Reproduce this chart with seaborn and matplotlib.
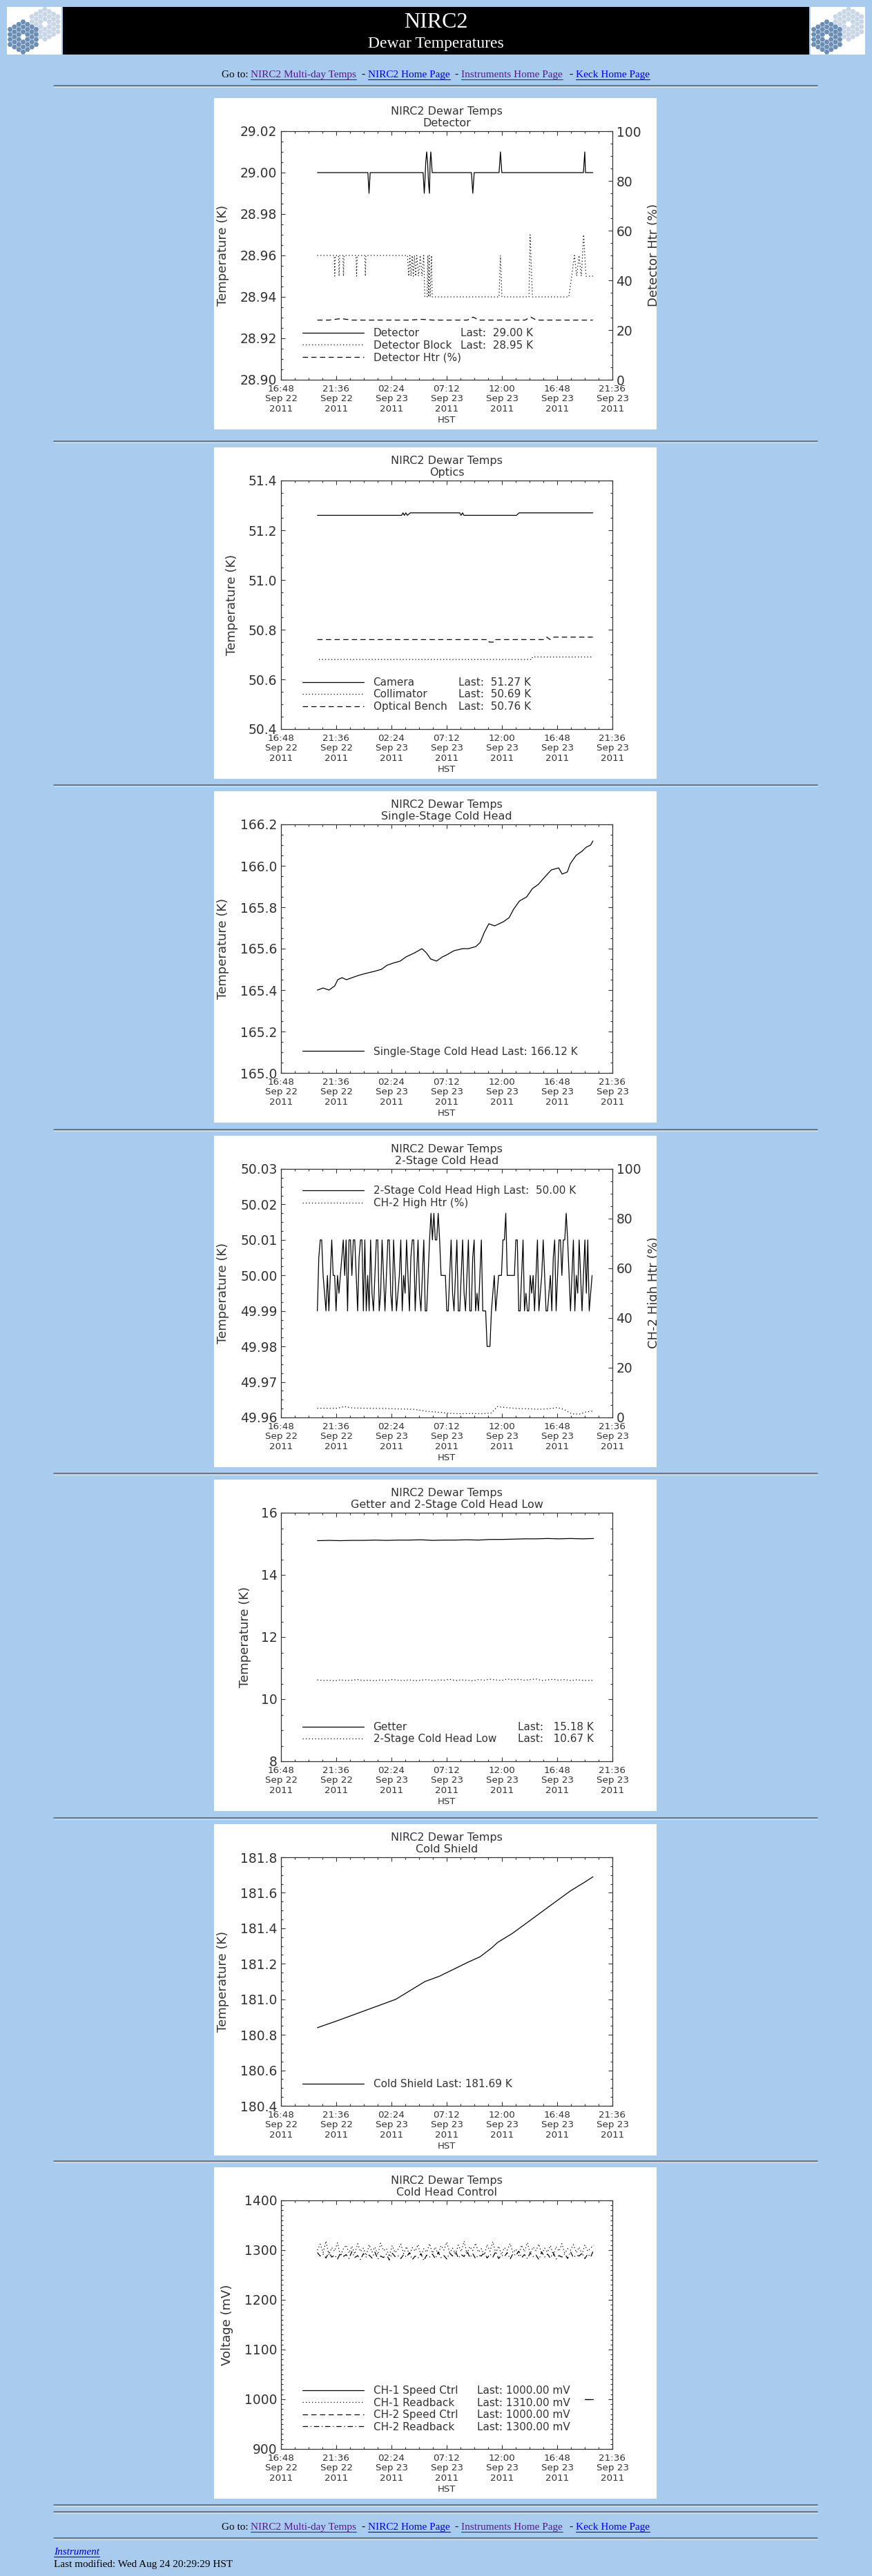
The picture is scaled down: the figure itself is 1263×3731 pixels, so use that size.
import numpy as np
import pandas as pd
import matplotlib
matplotlib.use('Agg')
import matplotlib.pyplot as plt
import matplotlib.dates as mdates
import matplotlib.ticker as mticker
from matplotlib.lines import Line2D
from matplotlib.patches import RegularPolygon
import seaborn as sns

sns.set_style('ticks')
plt.rcParams['font.family'] = ['DejaVu Sans']

W, H = 1263, 3731
BG = '#A9CCEE'
INK = '#333333'
SERIF = 'Liberation Serif'
BLUE = '#0000EE'
PURPLE = '#551A8B'

T0 = pd.Timestamp('2011-09-22 16:48')          # left edge of every plot, HST
T1 = T0 + pd.Timedelta(minutes=6 * 288)        # 21:36 Sep 23

# ---------------- data, times in hours after 16:48 Sep 22 ----------------
# Detector
det_h = [3.16, 7.55, 7.60, 7.65, 7.70, 7.75, 12.35, 12.40, 12.45, 12.50, 12.58, 12.66, 12.74,
         12.82, 12.90, 12.96, 13.02, 13.08, 13.14, 16.55, 16.61, 16.67, 16.73, 16.79, 18.95,
         19.01, 19.07, 19.13, 19.19, 26.28, 26.34, 26.40, 26.46, 27.10]
det_v = [29.00, 29.00, 28.995, 28.99, 28.995, 29.00, 29.00, 28.995, 28.99, 28.995, 29.005, 29.01,
         29.005, 28.995, 28.99, 29.005, 29.01, 29.005, 29.00, 29.00, 28.995, 28.99, 28.995, 29.00,
         29.00, 29.005, 29.01, 29.005, 29.00, 29.00, 29.005, 29.01, 29.00, 29.00]
blk_h = [3.16, 4.62, 4.67, 4.72, 5.00, 5.05, 5.10, 5.38, 5.43, 5.48, 6.52, 6.57, 6.62, 7.28, 7.33,
         7.38, 10.99, 11.10, 11.20, 11.30, 11.40, 11.50, 11.60, 11.70, 11.80, 11.95, 12.10, 12.25,
         12.40, 12.50, 12.70, 12.76, 12.82, 12.88, 12.96, 13.08, 13.14, 18.95, 19.07, 19.20, 21.55,
         21.65, 21.85, 25.01, 25.26, 25.50, 25.70, 25.90, 26.10, 26.30, 26.50, 27.10]
blk_v = [28.96, 28.96, 28.95, 28.96, 28.96, 28.95, 28.96, 28.96, 28.95, 28.96, 28.96, 28.95, 28.96,
         28.96, 28.95, 28.96, 28.96, 28.95, 28.96, 28.95, 28.96, 28.95, 28.96, 28.95, 28.96, 28.95,
         28.96, 28.95, 28.96, 28.94, 28.94, 28.96, 28.94, 28.96, 28.94, 28.96, 28.94, 28.94, 28.96,
         28.94, 28.94, 28.97, 28.94, 28.94, 28.95, 28.96, 28.95, 28.96, 28.95, 28.97, 28.95, 28.95]
dhtr_h = [3.16, 4.2, 5.2, 6.2, 7.2, 8.2, 9.2, 10.2, 11.2, 12.2, 13.2, 14.2, 15.2, 16.2, 16.7,
          17.2, 18.2, 19.2, 20.2, 21.2, 21.7, 22.2, 23.2, 24.2, 25.2, 26.2, 27.1]
dhtr_v = [24.0, 24.0, 24.6, 24.0, 24.0, 24.0, 24.0, 24.0, 24.0, 24.3, 24.0, 24.0, 24.0, 24.0, 25.2,
          24.0, 24.0, 24.0, 24.0, 24.0, 25.2, 24.0, 24.0, 24.0, 24.0, 24.0, 24.0]

# Optics
cam_h = [3.16, 10.48, 10.60, 10.72, 10.85, 10.98, 11.24, 15.53, 15.65, 15.78, 15.90, 20.46, 20.70, 27.10]
cam_v = [51.26, 51.26, 51.27, 51.26, 51.27, 51.26, 51.27, 51.27, 51.26, 51.27, 51.26, 51.26, 51.27, 51.27]
col_h = [3.30, 21.80, 21.85, 27.10]
col_v = [50.68, 50.68, 50.69, 50.69]
ben_h = [3.16, 18.0, 18.1, 18.5, 18.6, 22.86, 23.1, 23.4, 23.7, 24.0, 27.10]
ben_v = [50.76, 50.76, 50.75, 50.75, 50.76, 50.76, 50.77, 50.76, 50.77, 50.77, 50.77]

# Single-stage cold head
ss_h = [3.16, 3.66, 4.17, 4.67, 4.93, 5.31, 5.68, 6.19, 6.69, 7.33, 8.08, 8.72, 9.22, 9.73, 10.36,
        10.86, 11.62, 12.25, 12.63, 13.01, 13.52, 14.02, 14.40, 15.03, 15.79, 16.29, 16.93, 17.31,
        17.68, 18.06, 18.57, 19.33, 19.83, 20.21, 20.72, 21.35, 21.85, 22.36, 22.99, 23.49, 24.13,
        24.43, 24.88, 25.14, 25.64, 26.15, 26.53, 26.91, 27.11]
ss_v = [165.40, 165.41, 165.40, 165.42, 165.45, 165.46, 165.45, 165.46, 165.47, 165.48, 165.49,
        165.50, 165.52, 165.53, 165.54, 165.56, 165.58, 165.60, 165.58, 165.55, 165.54, 165.56,
        165.57, 165.59, 165.60, 165.60, 165.61, 165.63, 165.68, 165.72, 165.71, 165.73, 165.75,
        165.79, 165.83, 165.85, 165.89, 165.91, 165.95, 165.98, 165.99, 165.96, 165.97, 166.01,
        166.05, 166.07, 166.09, 166.10, 166.12]

# 2-stage cold head high, sampled every 0.125 h from 3.16 h, in mK from 50.00 K
ch2_start, ch2_step = 3.16, 0.125
ch2_mk = [-10, 5, 10, 10, 0, -5, -10, 0, -10, 0, 10, 0, 0, -10, 0, -5,
          0, 5, 10, 0, 10, -10, 10, 10, 0, 10, 10, 0, -10, 5, 10, 10,
          -10, 10, -10, 0, -10, 10, -5, -10, 0, 10, 10, -10, -5, 10, 0, -10,
          0, 10, 10, -5, -10, 10, 0, -10, -5, 0, 10, -10, 0, -5, 10, 0,
          -10, 5, 10, 10, -10, 0, 10, -5, -10, 0, 10, -10, -10, 0, 10, 17.5,
          10, 17.5, 10, 10, 17.5, 10, 0, 0, 0, 0, -10, -10, 0, 10, -5, -10,
          0, 10, -10, -10, 0, 10, -5, -10, 0, 10, -10, -10, 5, 10, -10, -5,
          -10, 0, 10, -10, -10, -10, -20, -20, -20, -10, -5, 0, -10, -5, 0, 0,
          0, 10, 10, 17.5, 0, 0, 0, 0, 0, 0, 10, 10, -10, -10, 0, 10,
          -10, -5, -10, -10, 0, -5, 0, -10, 0, 10, -10, -5, 0, 10, 0, -10,
          -10, -5, 0, -10, 5, 10, -10, 0, 10, 10, 0, 10, 10, 17.5, 10, 0,
          -10, 0, 10, -10, 0, -5, 10, 0, -10, 0, 10, -5, 10, -10, -5, 0]
chtr_h = [3.16, 4.9, 5.5, 6.2, 7.5, 9.0, 10.5, 11.5, 12.8, 13.5, 14.5, 15.5, 16.5, 17.5, 18.3,
          18.8, 19.5, 20.5, 21.5, 22.5, 23.5, 24.0, 24.6, 25.3, 26.0, 26.5, 27.1]
chtr_v = [3.7, 3.7, 4.4, 3.8, 3.7, 3.6, 3.4, 3.3, 2.4, 2.2, 1.7, 1.5, 1.6, 1.5, 1.8,
          4.4, 4.0, 3.6, 3.5, 3.3, 3.6, 4.0, 3.2, 1.4, 1.4, 2.2, 2.6]

# Getter (hourly) and 2-stage cold head low (half-hourly), from 3.16 h
get_v = [15.10, 15.11, 15.10, 15.11, 15.11, 15.12, 15.11, 15.12, 15.12, 15.13, 15.11, 15.12, 15.12,
         15.13, 15.12, 15.14, 15.14, 15.15, 15.16, 15.16, 15.17, 15.16, 15.17, 15.16, 15.17]
low_v = [10.62, 10.60, 10.61, 10.59, 10.62, 10.60, 10.61, 10.63, 10.60, 10.61,
         10.59, 10.62, 10.60, 10.63, 10.61, 10.60, 10.62, 10.59, 10.61, 10.63,
         10.60, 10.62, 10.61, 10.64, 10.60, 10.62, 10.61, 10.59, 10.63, 10.61,
         10.64, 10.62, 10.60, 10.65, 10.62, 10.64, 10.61, 10.63, 10.65, 10.60,
         10.62, 10.64, 10.61, 10.63, 10.60, 10.62, 10.61, 10.60, 10.61]

# Cold shield
sh_h = [3.16, 4.93, 6.19, 8.72, 9.98, 11.24, 12.51, 13.77, 15.03, 16.29, 17.31, 18.32, 18.82,
        20.08, 21.35, 22.61, 23.87, 25.14, 26.40, 27.11]
sh_v = [180.84, 180.88, 180.91, 180.97, 181.00, 181.05, 181.10, 181.13, 181.17, 181.21, 181.24,
        181.29, 181.32, 181.37, 181.43, 181.49, 181.55, 181.61, 181.66, 181.69]

# Cold head control readbacks, every 0.25 h from 3.16 h (mV)
rb1 = [1300, 1312, 1295, 1318, 1290, 1305, 1298, 1315, 1288, 1302,
       1310, 1294, 1308, 1292, 1313, 1297, 1304, 1289, 1311, 1296,
       1306, 1291, 1314, 1299, 1303, 1287, 1309, 1295, 1301, 1312,
       1293, 1307, 1290, 1305, 1298, 1311, 1288, 1303, 1296, 1313,
       1294, 1306, 1291, 1309, 1300, 1316, 1295, 1304, 1292, 1310,
       1297, 1318, 1293, 1307, 1299, 1314, 1296, 1303, 1290, 1311,
       1298, 1317, 1294, 1308, 1291, 1305, 1300, 1313, 1295, 1302,
       1289, 1310, 1297, 1315, 1293, 1306, 1299, 1312, 1292, 1304,
       1296, 1309, 1290, 1307, 1298, 1313, 1294, 1303, 1300, 1311,
       1295, 1306, 1292, 1310, 1298, 1304, 1310]
rb2 = [1295, 1288, 1292, 1284, 1296, 1286, 1290, 1282, 1294, 1287,
       1291, 1283, 1297, 1285, 1289, 1281, 1293, 1286, 1290, 1284,
       1296, 1282, 1288, 1285, 1292, 1280, 1294, 1287, 1289, 1283,
       1291, 1286, 1295, 1281, 1288, 1284, 1293, 1279, 1290, 1286,
       1292, 1283, 1296, 1285, 1289, 1282, 1294, 1288, 1298, 1284,
       1291, 1287, 1299, 1285, 1293, 1283, 1290, 1288, 1296, 1284,
       1292, 1286, 1297, 1283, 1290, 1287, 1295, 1282, 1293, 1289,
       1298, 1285, 1291, 1283, 1294, 1287, 1290, 1281, 1296, 1286,
       1292, 1284, 1295, 1282, 1289, 1286, 1293, 1283, 1297, 1285,
       1290, 1288, 1294, 1283, 1292, 1286, 1300]
ctrl_h = [26.40, 27.10]
ctrl1_v = [1000, 1000]
ctrl2_v = [1000, 1000]

# ---------------- layout ----------------
PANEL_TOPS = [142, 648, 1146, 1645, 2143, 2642, 3139]
SOLID, DOTTED, DASHED, DASHDOT = '-', (0, (1, 2.6)), (0, (6, 4)), (0, (6, 3, 1, 3))

fig = plt.figure(figsize=(W / 100, H / 100), dpi=100, facecolor=BG)


def box(x, y, w, h):
    return [x / W, 1 - (y + h) / H, w / W, h / H]


def plain_axes(rect, color):
    a = fig.add_axes(rect)
    a.set_facecolor(color)
    a.set_xticks([])
    a.set_yticks([])
    for s in a.spines.values():
        s.set_visible(False)
    a.set_xlim(0, 1)
    a.set_ylim(0, 1)
    return a


def series(ax, hours, values, ls):
    df = pd.DataFrame({'time': T0 + pd.to_timedelta(np.asarray(hours, float), unit='h'),
                       'value': values})
    sns.lineplot(data=df, x='time', y='value', ax=ax, color='black', lw=0.9, ls=ls,
                 estimator=None, sort=False)


def regular(start, step, values):
    return start + step * np.arange(len(values))


def finish(ax, sub, ylim, major, minor, fmt, ylabel, ylab_x, mirror=True):
    ax.set_xlim(T0, T1)
    ax.set_ylim(*ylim)
    ax.xaxis.set_major_locator(mticker.FixedLocator(
        mdates.date2num(pd.date_range(T0, T1, freq='288min').to_pydatetime())))
    ax.xaxis.set_minor_locator(mticker.FixedLocator(
        mdates.date2num(pd.date_range(T0, T1, freq='72min').to_pydatetime())))
    ax.xaxis.set_major_formatter(mdates.DateFormatter('%H:%M\n%b %d\n%Y'))
    ax.yaxis.set_major_locator(mticker.MultipleLocator(major))
    ax.yaxis.set_minor_locator(mticker.MultipleLocator(minor))
    ax.yaxis.set_major_formatter(mticker.FormatStrFormatter(fmt))
    ax.tick_params(which='both', direction='in', top=True, right=mirror, colors=INK, width=0.8)
    ax.tick_params(which='major', length=4.5)
    ax.tick_params(which='minor', length=2.5)
    ax.tick_params(axis='x', labelsize=9.7, pad=5)
    ax.tick_params(axis='y', labelsize=13.5, pad=4)
    for t in ax.get_xticklabels():
        t.set_linespacing(1.15)
    ax.set_xlabel('HST', fontsize=9.5, color=INK, labelpad=2)
    ax.set_ylabel(ylabel, fontsize=13, color=INK)
    ax.yaxis.set_label_coords(ylab_x, 0.5)
    ax.set_title('NIRC2 Dewar Temps\n' + sub, fontsize=11.5, color=INK, pad=5, linespacing=1.15)
    for s in ax.spines.values():
        s.set_color(INK)
        s.set_linewidth(0.9)


def finish_right(ax2, bg, label):
    ax2.set_xlim(T0, T1)
    ax2.set_ylim(0, 100)
    ax2.yaxis.set_major_locator(mticker.MultipleLocator(20))
    ax2.yaxis.set_minor_locator(mticker.MultipleLocator(5))
    ax2.yaxis.set_major_formatter(mticker.FormatStrFormatter('%d'))
    ax2.tick_params(which='both', direction='in', colors=INK, width=0.8, labelsize=13.5, pad=4)
    ax2.tick_params(which='major', length=4.5)
    ax2.tick_params(which='minor', length=2.5)
    ax2.set_ylabel('')
    for s in ax2.spines.values():
        s.set_visible(False)
    # the original image cuts this label at the panel edge
    bg.text(0.994, 0.526, label, rotation=90, ha='center', va='center', fontsize=13,
            color=INK, clip_on=True)


def legend(ax, styles, names, cy, lasts=None, last_x=None):
    kw = dict(loc='center left', frameon=False, fontsize=11, borderpad=0, borderaxespad=0,
              labelspacing=0.16, labelcolor=INK)
    handles = [Line2D([], [], color='black', lw=0.9, ls=s) for s in styles]
    leg = ax.legend(handles, names, bbox_to_anchor=(0.065, cy), handlelength=5.8,
                    handletextpad=0.9, **kw)
    if lasts:
        ax.add_artist(leg)
        blank = [Line2D([], [], alpha=0) for _ in lasts]
        ax.legend(blank, lasts, bbox_to_anchor=(last_x, cy), handlelength=0,
                  handletextpad=0, **kw)


def panel(k):
    top = PANEL_TOPS[k]
    bg = plain_axes(box(310, top, 641, 480), 'white')
    ax = fig.add_axes(box(407, top + 48, 480, 360))
    return bg, ax


# ---------------- page header ----------------
def logo(x):
    a = plain_axes(box(x, 10, 79, 69), 'white')
    a.set_xlim(0, 79)
    a.set_ylim(69, 0)
    s = 4.2
    for (cx, cy), col in (((55, 25), '#C8D6E6'), ((23.5, 43.5), '#6B8EB5')):
        for q in range(-3, 4):
            for r in range(-3, 4):
                if max(abs(q), abs(r), abs(q + r)) > 3 or (q, r) == (0, 0):
                    continue
                a.add_patch(RegularPolygon((cx + 1.5 * s * q, cy + np.sqrt(3) * s * (r + q / 2)),
                                           6, radius=s * 0.92, orientation=np.pi / 6,
                                           color=col, lw=0))


logo(10)
logo(1174)
band = plain_axes(box(91, 10, 1081, 69), 'black')
band.text(0.5, 0.68, 'NIRC2', color='white', family=SERIF, fontsize=23, ha='center', va='center')
band.text(0.5, 0.22, 'Dewar Temperatures', color='white', family=SERIF, fontsize=17,
          ha='center', va='center')

renderer = fig.canvas.get_renderer()


def goto_row(y):
    pieces = [('Go to:', 321, 'black', False), ('NIRC2 Multi-day Temps', 363, PURPLE, True),
              ('-', 523, 'black', False), ('NIRC2 Home Page', 533, BLUE, True),
              ('-', 658, 'black', False), ('Instruments Home Page', 668, PURPLE, True),
              ('-', 824, 'black', False), ('Keck Home Page', 834, BLUE, True)]
    for text, x, col, under in pieces:
        t = fig.text(x / W, 1 - y / H, text, family=SERIF, fontsize=11, color=col, va='baseline')
        if under:
            w = t.get_window_extent(renderer).width
            fig.add_artist(Line2D([x / W, (x + w) / W], [1 - (y + 2.5) / H] * 2, color=col, lw=0.8))


def hr(y):
    fig.add_artist(Line2D([78 / W, 1184 / W], [1 - y / H] * 2, color='#5E5E5E', lw=1.1))
    fig.add_artist(Line2D([78 / W, 1184 / W], [1 - (y + 1.5) / H] * 2, color='#D9E4EF', lw=0.7))


goto_row(112)
hr(124)
for top in PANEL_TOPS[1:]:
    hr(top - 9)

# ---------------- 1: Detector ----------------
bg, ax = panel(0)
series(ax, blk_h, blk_v, DOTTED)
series(ax, det_h, det_v, SOLID)
ax2 = ax.twinx()
series(ax2, dhtr_h, dhtr_v, DASHED)
finish(ax, 'Detector', (28.90, 29.02), 0.02, 0.005, '%.2f', 'Temperature (K)', -0.156, mirror=False)
finish_right(ax2, bg, 'Detector Htr (%)')
legend(ax, [SOLID, DOTTED, DASHED], ['Detector', 'Detector Block', 'Detector Htr (%)'], 0.138,
       ['Last:  29.00 K', 'Last:  28.95 K', ' '], 0.541)

# ---------------- 2: Optics ----------------
bg, ax = panel(1)
series(ax, cam_h, cam_v, SOLID)
series(ax, col_h, col_v, DOTTED)
series(ax, ben_h, ben_v, DASHED)
finish(ax, 'Optics', (50.4, 51.4), 0.2, 0.05, '%.1f', 'Temperature (K)', -0.129)
legend(ax, [SOLID, DOTTED, DASHED], ['Camera', 'Collimator', 'Optical Bench'], 0.139,
       ['Last:  51.27 K', 'Last:  50.69 K', 'Last:  50.76 K'], 0.535)

# ---------------- 3: Single-stage cold head ----------------
bg, ax = panel(2)
series(ax, ss_h, ss_v, SOLID)
finish(ax, 'Single-Stage Cold Head', (165.0, 166.2), 0.2, 0.05, '%.1f', 'Temperature (K)', -0.156)
legend(ax, [SOLID], ['Single-Stage Cold Head Last: 166.12 K'], 0.086)

# ---------------- 4: 2-stage cold head ----------------
bg, ax = panel(3)
series(ax, regular(ch2_start, ch2_step, ch2_mk), 50.0 + np.array(ch2_mk) / 1000.0, SOLID)
ax2 = ax.twinx()
series(ax2, chtr_h, chtr_v, DOTTED)
finish(ax, '2-Stage Cold Head', (49.96, 50.03), 0.01, 0.0025, '%.2f', 'Temperature (K)', -0.156,
       mirror=False)
finish_right(ax2, bg, 'CH-2 High Htr (%)')
legend(ax, [SOLID, DOTTED], ['2-Stage Cold Head High Last:  50.00 K', 'CH-2 High Htr (%)'], 0.887)

# ---------------- 5: Getter and 2-stage low ----------------
bg, ax = panel(4)
series(ax, regular(3.16, 1.0, get_v), get_v, SOLID)
series(ax, regular(3.16, 0.5, low_v), low_v, DOTTED)
finish(ax, 'Getter and 2-Stage Cold Head Low', (8, 16), 2, 0.5, '%d', 'Temperature (K)', -0.090)
legend(ax, [SOLID, DOTTED], ['Getter', '2-Stage Cold Head Low'], 0.1135,
       ['Last:   15.18 K', 'Last:   10.67 K'], 0.715)

# ---------------- 6: Cold shield ----------------
bg, ax = panel(5)
series(ax, sh_h, sh_v, SOLID)
finish(ax, 'Cold Shield', (180.4, 181.8), 0.2, 0.05, '%.1f', 'Temperature (K)', -0.156)
legend(ax, [SOLID], ['Cold Shield Last: 181.69 K'], 0.087)

# ---------------- 7: Cold head control ----------------
bg, ax = panel(6)
series(ax, regular(3.16, 0.25, rb1), rb1, DOTTED)
series(ax, regular(3.16, 0.25, rb2), rb2, DASHDOT)
series(ax, ctrl_h, ctrl1_v, SOLID)
series(ax, ctrl_h, ctrl2_v, DASHED)
finish(ax, 'Cold Head Control', (900, 1400), 100, 10, '%d', 'Voltage (mV)', -0.144)
legend(ax, [SOLID, DOTTED, DASHED, DASHDOT],
       ['CH-1 Speed Ctrl', 'CH-1 Readback', 'CH-2 Speed Ctrl', 'CH-2 Readback'], 0.1615,
       ['Last: 1000.00 mV', 'Last: 1310.00 mV', 'Last: 1000.00 mV', 'Last: 1300.00 mV'], 0.591)

# ---------------- footer ----------------
hr(3628)
hr(3638)
goto_row(3664)
hr(3676)
t = fig.text(78 / W, 1 - 3700 / H, 'Instrument', family=SERIF, style='italic', fontsize=11,
             color=BLUE, va='baseline')
w = t.get_window_extent(renderer).width
fig.add_artist(Line2D([78 / W, (78 + w) / W], [1 - 3703 / H] * 2, color=BLUE, lw=0.8))
fig.text(78 / W, 1 - 3718 / H, 'Last modified: Wed Aug 24 20:29:29 HST', family=SERIF,
         fontsize=11, color='black', va='baseline')

fig.savefig('out.png', dpi=100, facecolor=BG)
